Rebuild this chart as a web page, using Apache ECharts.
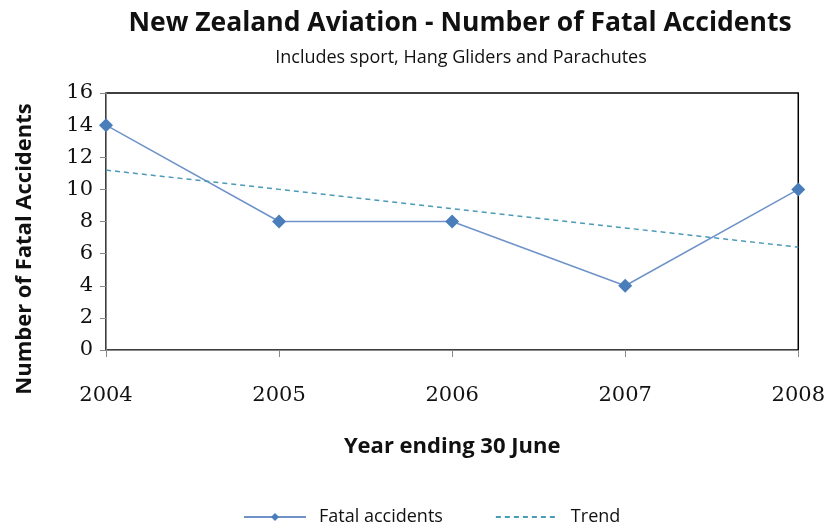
<!DOCTYPE html>
<html>
<head>
<meta charset="utf-8">
<script src="https://cdn.jsdelivr.net/npm/echarts@6/dist/echarts.min.js"></script>
<style>html,body{margin:0;padding:0;background:#fff}#c{width:828px;height:529px}</style>
</head>
<body>
<div id="c"></div>
<script>
const years = ['2004', '2005', '2006', '2007', '2008'];
const fatalAccidents = [14, 8, 8, 4, 10];
const trend = [11.2, 10.0, 8.8, 7.6, 6.4];
const yTicks = [0, 2, 4, 6, 8, 10, 12, 14, 16];

const chart = echarts.init(document.getElementById('c'));
const sans = 'Open Sans';
chart.setOption({
  animation: false,
  title: [
    { text: 'New Zealand Aviation - Number of Fatal Accidents', left: 455, top: 5, textAlign: 'center',
      textStyle: { fontFamily: sans, fontSize: 26.5, fontWeight: 'bold', color: '#111' } },
    { text: 'Includes sport, Hang Gliders and Parachutes', left: 456, top: 44, textAlign: 'center',
      textStyle: { fontFamily: sans, fontSize: 18, fontWeight: 'normal', color: '#111' } }
  ],
  grid: { left: 106, right: 27, top: 93, bottom: 179, show: true, borderColor: '#000', borderWidth: 1.5, backgroundColor: 'transparent' },
  legend: {
    top: 503, left: 238, itemGap: 52, itemWidth: 62, itemHeight: 10,
    textStyle: { fontFamily: sans, fontSize: 18, color: '#111', padding: [0, 0, 0, 8] },
    data: [
      { name: 'Fatal accidents' },
      { name: 'Trend', itemStyle: { opacity: 0 } }
    ]
  },
  graphic: [
    { type: 'text', x: 25, y: 249, rotation: Math.PI / 2,
      style: { text: 'Number of Fatal Accidents', fontFamily: sans, fontSize: 22, fontWeight: 'bold',
        fill: '#111', align: 'center', verticalAlign: 'middle' } }
  ],
  xAxis: {
    type: 'category', data: years, boundaryGap: false,
    name: 'Year ending 30 June', nameLocation: 'middle', nameGap: 86,
    nameTextStyle: { fontFamily: sans, fontSize: 22, fontWeight: 'bold', color: '#111' },
    axisLine: { lineStyle: { color: '#888', width: 1 } },
    axisTick: { alignWithLabel: true, length: 7, lineStyle: { color: '#888' } },
    axisLabel: { fontFamily: 'DejaVu Serif', fontSize: 21, color: '#111', margin: 35 }
  },
  yAxis: {
    type: 'value', min: 0, max: 16, interval: 2,
    axisLine: { show: true, lineStyle: { color: '#888', width: 1 } },
    axisTick: { show: true, length: 6, lineStyle: { color: '#888' } },
    splitLine: { show: false },
    axisLabel: { fontFamily: 'DejaVu Serif', fontSize: 21, color: '#111', margin: 13,
      formatter: v => yTicks.includes(v) ? String(v) : '' }
  },
  series: [
    { name: 'Fatal accidents', type: 'line', data: fatalAccidents,
      symbol: 'diamond', symbolSize: 14,
      itemStyle: { color: '#4A7EBB' },
      lineStyle: { color: '#6F93C9', width: 1.5 } },
    { name: 'Trend', type: 'line', data: trend, symbol: 'none',
      itemStyle: { color: '#4B9AB8' },
      lineStyle: { color: '#4B9AB8', width: 1.5, type: [5, 4] } }
  ]
});
</script>
</body>
</html>
